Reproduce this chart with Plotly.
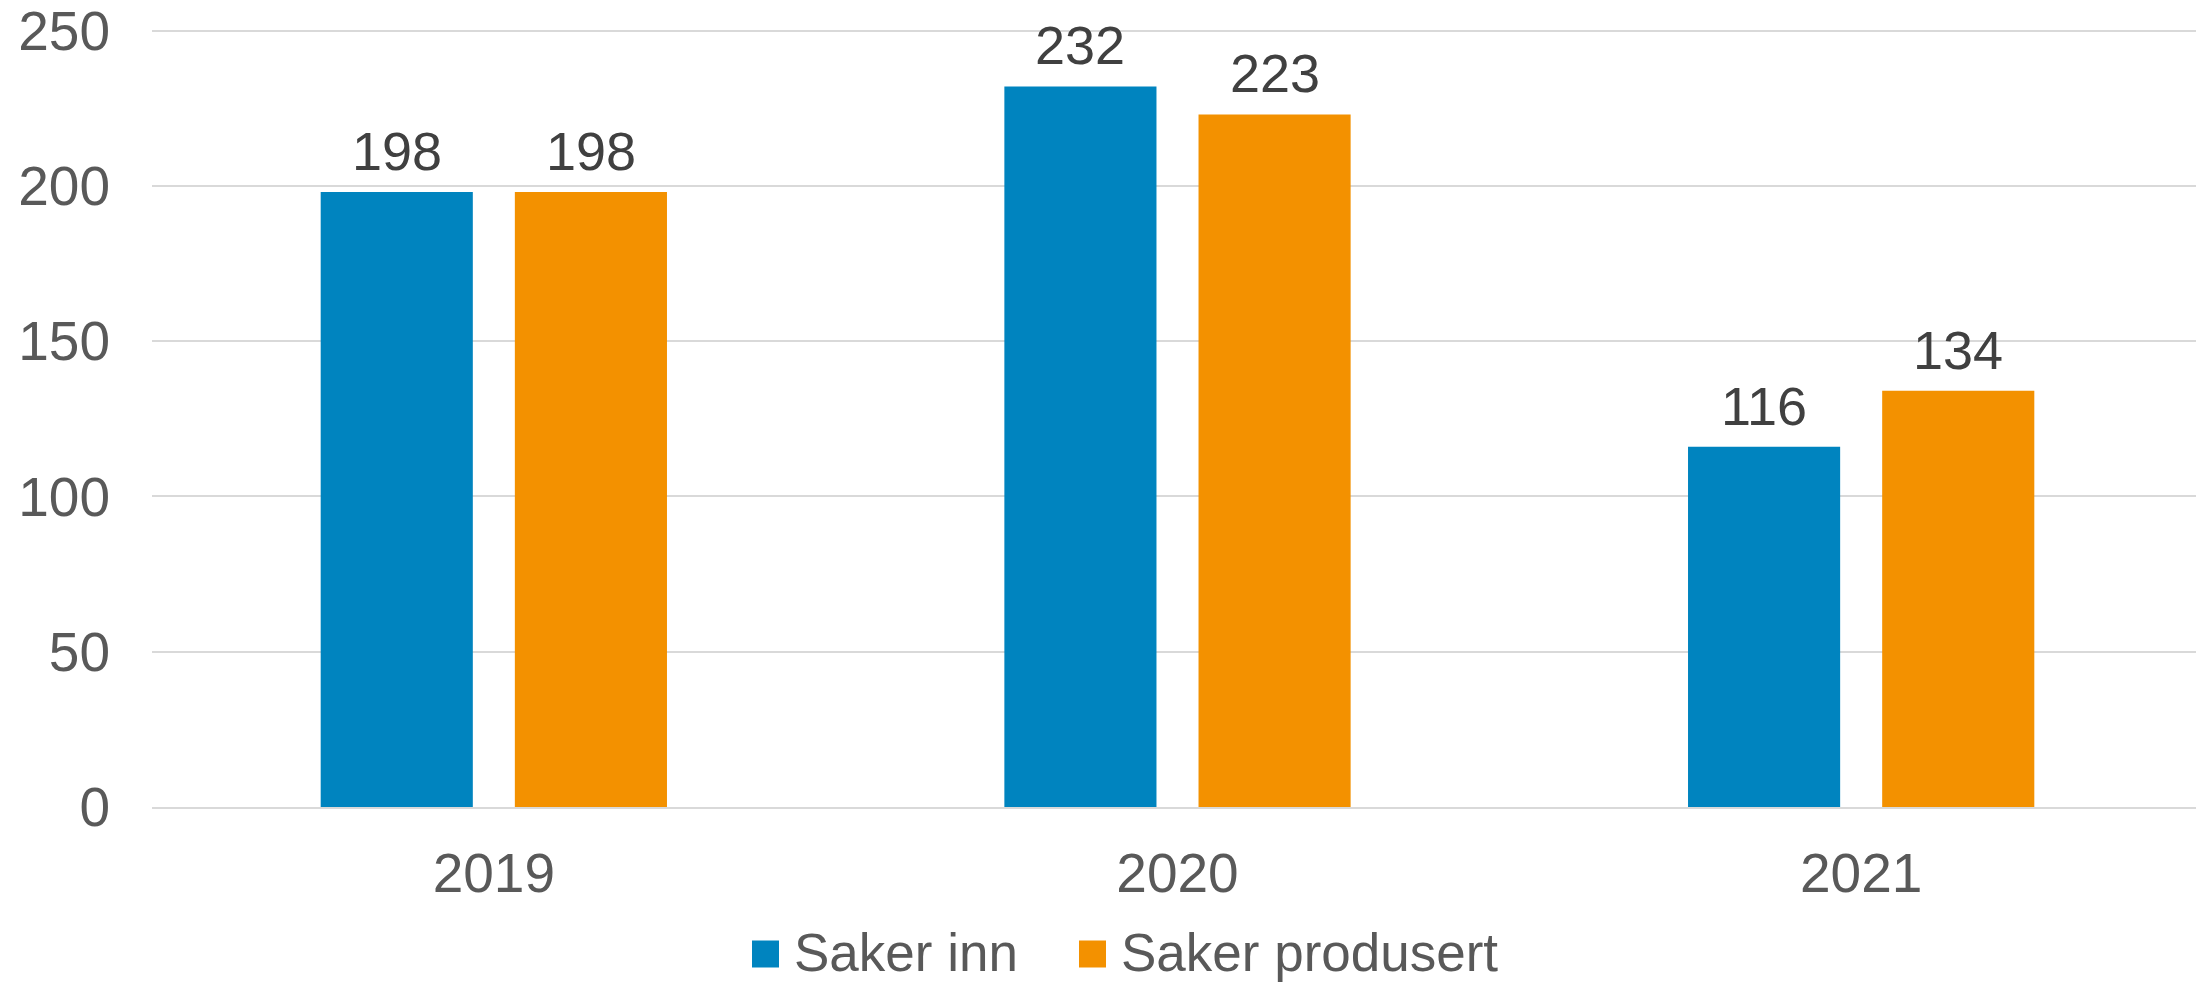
import plotly.graph_objects as go

categories = ["2019", "2020", "2021"]
saker_inn = [198, 232, 116]
saker_produsert = [198, 223, 134]
y_ticks = [0, 50, 100, 150, 200, 250]
series = [("Saker inn", saker_inn, "#0084BF"), ("Saker produsert", saker_produsert, "#F39100")]

FONT = "Arial, Liberation Sans, sans-serif"
W, H = 2196, 975
ML, MR, MT, MB = 144, 1, 21, 176
Y_MAX = 250.5
BARGAP, BARGROUPGAP = 0.432, 0.2165
PW = W - ML - MR
PH = H - MT - MB


def px_x(px):
    return (px - ML) / PW


def px_y(py):
    return (H - MB - py) / PH


fig = go.Figure()
for name, vals, col in series:
    fig.add_trace(go.Bar(
        name=name, x=categories, y=vals, showlegend=False,
        marker=dict(color=col, line=dict(width=0)),
    ))

# data labels above bars (category index positions on the category axis)
slot = PW / len(categories) * (1 - BARGAP) / 2
for i, (name, vals, col) in enumerate(series):
    shift = (i - 0.5) * slot
    for ci, v in enumerate(vals):
        fig.add_annotation(
            x=ci, y=v, xref="x", yref="y", text=str(v), showarrow=False,
            xanchor="center", yanchor="bottom", xshift=shift, yshift=9,
            font=dict(family=FONT, size=54, color="#404040"),
        )

# legend (swatch + label), drawn to match the reference's large swatches
legend_swatch_left = [744, 1071]
SW = 27
LEG_CY = 946
for (name, vals, col), lx in zip(series, legend_swatch_left):
    fig.add_shape(type="rect", xref="paper", yref="paper",
                  x0=px_x(lx), x1=px_x(lx + SW),
                  y0=px_y(LEG_CY + SW / 2), y1=px_y(LEG_CY - SW / 2),
                  fillcolor=col, line=dict(width=0))
    fig.add_annotation(xref="paper", yref="paper", x=px_x(lx + SW + 13), y=px_y(LEG_CY - 2),
                       xanchor="left", yanchor="middle", text=name, showarrow=False,
                       font=dict(family=FONT, size=53, color="#595959"))

fig.update_layout(
    width=W, height=H,
    margin=dict(l=ML, r=MR, t=MT, b=MB, autoexpand=False),
    paper_bgcolor="white", plot_bgcolor="white",
    barmode="group", bargap=BARGAP, bargroupgap=BARGROUPGAP,
    font=dict(family=FONT, size=54, color="#595959"),
    showlegend=False,
)
fig.update_xaxes(
    type="category", categoryorder="array", categoryarray=categories,
    range=[-0.5, len(categories) - 0.5],
    showgrid=False, showline=True, linecolor="#D9D9D9", linewidth=2,
    ticks="", ticklabelstandoff=17,
    tickfont=dict(family=FONT, size=55, color="#595959"),
)
fig.update_yaxes(
    range=[0, Y_MAX], tickvals=y_ticks, showgrid=True, gridcolor="#D9D9D9", gridwidth=2,
    zeroline=False, showline=False, ticks="", ticklabelstandoff=41,
    ticklabeloverflow="allow",
    tickfont=dict(family=FONT, size=55, color="#595959"),
)

fig.write_html("out.html")
